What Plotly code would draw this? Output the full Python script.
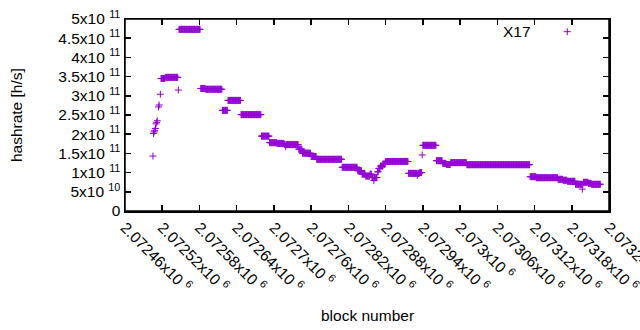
import plotly.graph_objects as go

# ---- data: runs of consecutive blocks sharing the same hashrate value ----
run_start = [2072505, 2072506, 2072507, 2072508, 2072509, 2072510, 2072511, 2072512,
             2072514, 2072515, 2072517, 2072518, 2072525, 2072546, 2072547, 2072582,
             2072590, 2072617, 2072626, 2072647, 2072680, 2072693, 2072705, 2072717,
             2072719, 2072720, 2072740, 2072746, 2072760, 2072769, 2072810, 2072835,
             2072842, 2072848, 2072855, 2072858, 2072861, 2072862, 2072867, 2072869,
             2072872, 2072876, 2072880, 2072917, 2072931, 2072932, 2072935, 2072939,
             2072940, 2072962, 2072972, 2072978, 2072985, 2073011, 2073113, 2073123,
             2073158, 2073166, 2073173, 2073186, 2073197, 2073198, 2073199, 2073207,
             2073212]
run_end = [2072505, 2072506, 2072507, 2072508, 2072509, 2072510, 2072511, 2072512,
           2072514, 2072515, 2072517, 2072524, 2072545, 2072546, 2072581, 2072589,
           2072616, 2072625, 2072646, 2072679, 2072692, 2072704, 2072716, 2072718,
           2072719, 2072739, 2072745, 2072759, 2072768, 2072809, 2072834, 2072841,
           2072847, 2072854, 2072857, 2072860, 2072861, 2072866, 2072868, 2072871,
           2072875, 2072879, 2072916, 2072930, 2072931, 2072934, 2072938, 2072939,
           2072961, 2072971, 2072977, 2072984, 2073010, 2073112, 2073122, 2073157,
           2073165, 2073172, 2073185, 2073196, 2073197, 2073198, 2073206, 2073211,
           2073226]
run_value = [1.43e11, 2.02e11, 2.06e11, 2.09e11, 2.15e11, 2.27e11, 2.31e11, 2.35e11,
             2.71e11, 2.76e11, 3.04e11, 3.45e11, 3.48e11, 3.15e11, 4.73e11, 3.19e11,
             3.17e11, 2.62e11, 2.88e11, 2.51e11, 1.95e11, 1.78e11, 1.76e11, 1.73e11,
             1.675e11, 1.73e11, 1.61e11, 1.505e11, 1.42e11, 1.346e11, 1.138e11, 1.05e11,
             0.96e11, 0.91e11, 0.96e11, 0.87e11, 0.79e11, 0.87e11, 1.02e11, 1.11e11,
             1.17e11, 1.22e11, 1.29e11, 0.98e11, 0.93e11, 0.98e11, 1.0e11, 1.46e11,
             1.71e11, 1.31e11, 1.24e11, 1.21e11, 1.26e11, 1.206e11, 0.894e11, 0.867e11,
             0.825e11, 0.80e11, 0.773e11, 0.695e11, 0.57e11, 0.695e11, 0.747e11, 0.72e11,
             0.695e11]

x_tick_vals = [2072460, 2072520, 2072580, 2072640, 2072700, 2072760, 2072820,
               2072880, 2072940, 2073000, 2073060, 2073120, 2073180, 2073240]
x_tick_text = ["2.07246x10 <sup>6</sup>", "2.07252x10 <sup>6</sup>", "2.07258x10 <sup>6</sup>",
               "2.07264x10 <sup>6</sup>", "2.0727x10 <sup>6</sup>", "2.07276x10 <sup>6</sup>",
               "2.07282x10 <sup>6</sup>", "2.07288x10 <sup>6</sup>", "2.07294x10 <sup>6</sup>",
               "2.073x10 <sup>6</sup>", "2.07306x10 <sup>6</sup>", "2.07312x10 <sup>6</sup>",
               "2.07318x10 <sup>6</sup>", "2.07324x10 <sup>6</sup>"]
y_tick_vals = [0, 0.5e11, 1e11, 1.5e11, 2e11, 2.5e11, 3e11, 3.5e11, 4e11, 4.5e11, 5e11]
y_tick_text = ["0", "5x10 <sup>10</sup>", "1x10 <sup>11</sup>", "1.5x10 <sup>11</sup>",
               "2x10 <sup>11</sup>", "2.5x10 <sup>11</sup>", "3x10 <sup>11</sup>",
               "3.5x10 <sup>11</sup>", "4x10 <sup>11</sup>", "4.5x10 <sup>11</sup>",
               "5x10 <sup>11</sup>"]
series_name = "X17"

blocks, rates = [], []
for s, e, v in zip(run_start, run_end, run_value):
    for b in range(s, e + 1):
        blocks.append(b)
        rates.append(v)

PURPLE = "#9400D3"
INK = "#000000"
X_RANGE = [2072460 - 0.01, 2073240 + 0.01]
Y_RANGE = [0, 5e11]
PLOT_W, PLOT_H, TL = 484, 192, 6
marker = dict(symbol="cross-thin", size=5, color=PURPLE, line=dict(color=PURPLE, width=1))

fig = go.Figure()
fig.add_trace(go.Scatter(x=blocks, y=rates, mode="markers", marker=marker,
                         name=series_name, cliponaxis=False))
# legend sample (gnuplot style: text then point), on unit overlay axes
fig.add_trace(go.Scatter(x=[0.9138], y=[0.934], mode="markers", marker=marker,
                         xaxis="x2", yaxis="y2", cliponaxis=False, hoverinfo="skip"))

axis_common = dict(showline=True, linecolor=INK, linewidth=1.5, mirror="allticks",
                   ticks="inside", ticklen=TL, tickwidth=1.5, tickcolor=INK,
                   showgrid=False, zeroline=False, automargin=False,
                   ticklabeloverflow="allow", layer="above traces")

fig.update_layout(
    template="none",
    width=640, height=330,
    margin=dict(l=125, r=31, t=19, b=119, autoexpand=False),
    paper_bgcolor="white", plot_bgcolor="white",
    font=dict(family="Liberation Sans, Arial, sans-serif", size=15.5, color="black"),
    showlegend=False,
    xaxis=dict(range=X_RANGE, tickmode="array", tickvals=x_tick_vals,
               ticktext=x_tick_text, tickangle=45, **axis_common),
    yaxis=dict(range=Y_RANGE, tickmode="array", tickvals=y_tick_vals,
               ticktext=y_tick_text, **axis_common),
    xaxis2=dict(range=[0, 1], overlaying="x", visible=False, automargin=False),
    yaxis2=dict(range=[0, 1], overlaying="y", visible=False, automargin=False),
    shapes=[dict(type="rect", xref="paper", yref="paper", x0=0, x1=1, y0=0, y1=1,
                 line=dict(color=INK, width=1.5), fillcolor="rgba(0,0,0,0)",
                 layer="above")],
    annotations=[
        dict(text="block number", xref="paper", yref="paper", x=0.5, y=-0.542,
             xanchor="center", yanchor="middle", showarrow=False),
        dict(text="hashrate [h/s]", xref="paper", yref="paper", x=-0.225, y=0.5,
             xanchor="center", yanchor="middle", textangle=-90, showarrow=False),
        dict(text=series_name, xref="paper", yref="paper", x=0.843, y=0.934,
             xanchor="right", yanchor="middle", showarrow=False),
    ],
)

fig.write_html("out.html", config={"displayModeBar": False, "staticPlot": True},
               post_script="document.body.style.margin='0';")
